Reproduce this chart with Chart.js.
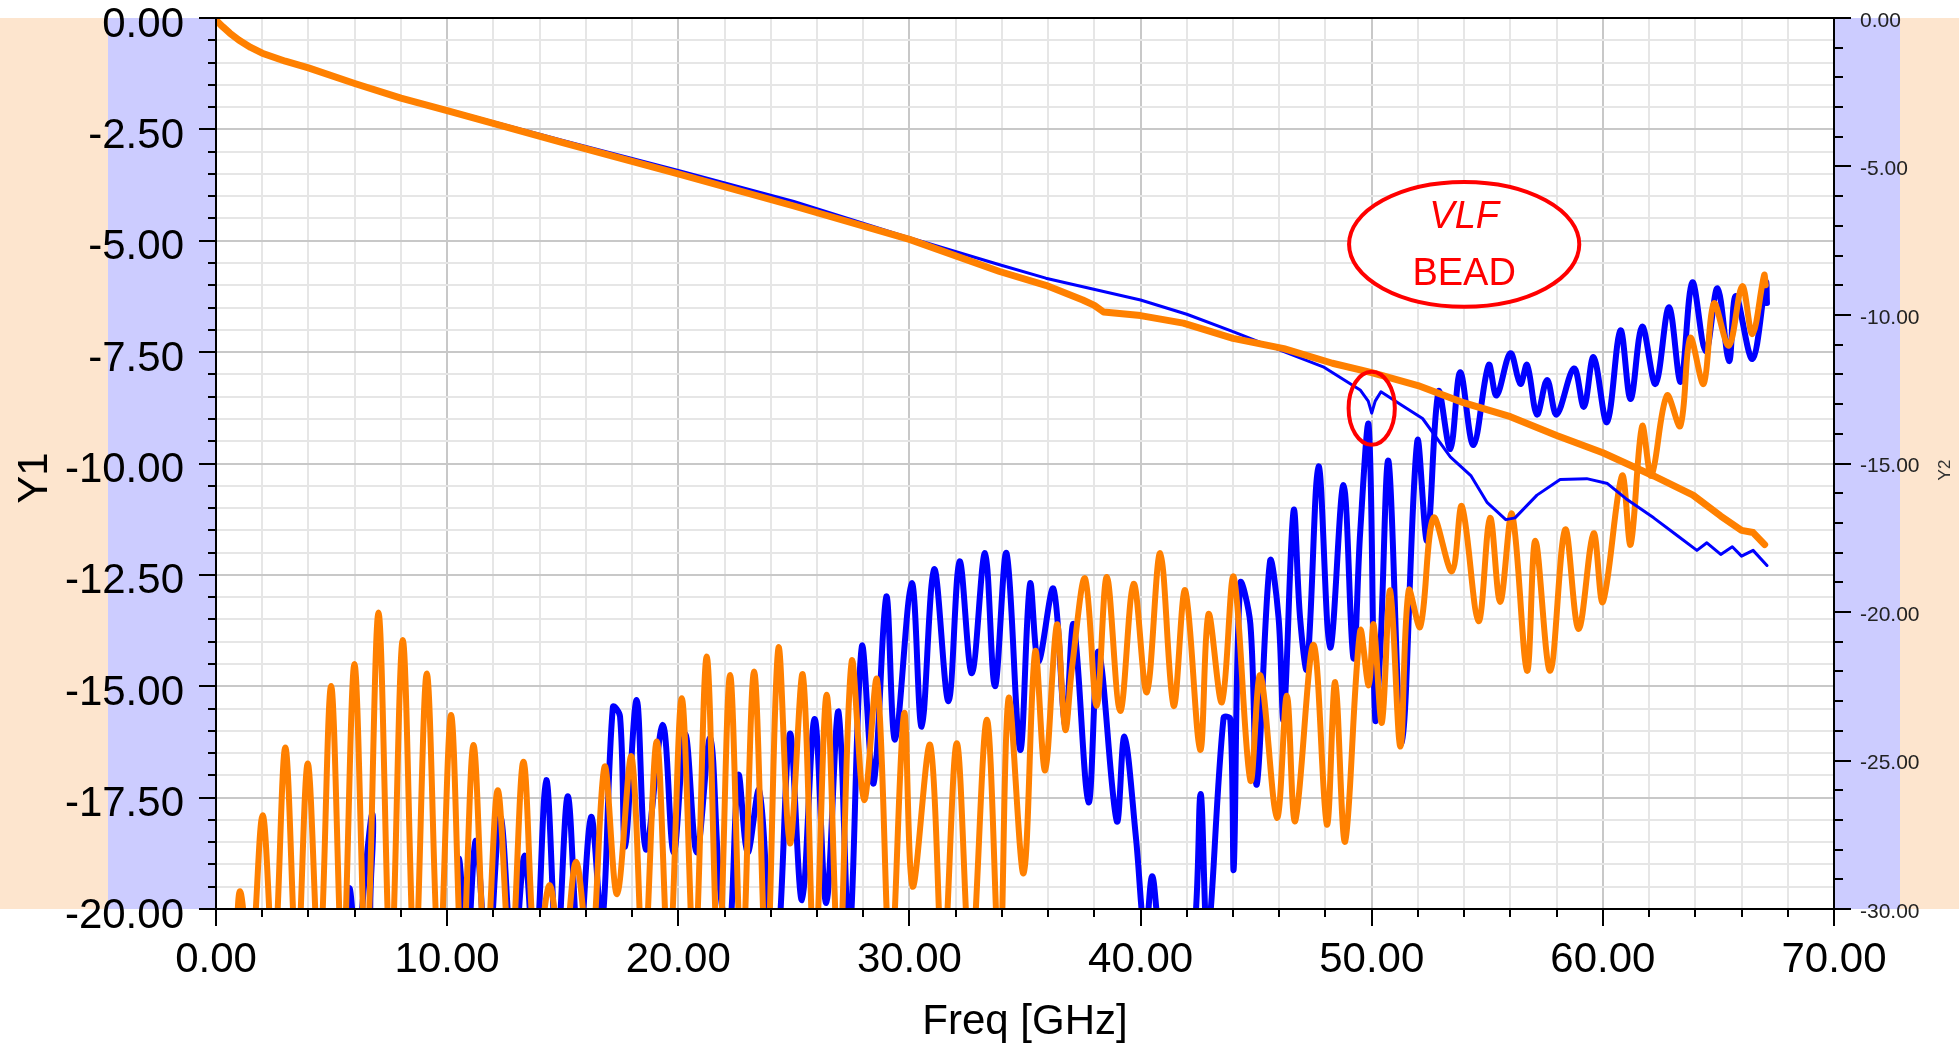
<!DOCTYPE html>
<html>
<head>
<meta charset="utf-8">
<title>Freq sweep</title>
<script src="https://cdn.jsdelivr.net/npm/chart.js@4.4.0/dist/chart.umd.min.js"></script>
<style>
  html, body { margin: 0; padding: 0; background: #fff; }
  #wrap { width: 1959px; height: 1043px; position: relative; }
</style>
</head>
<body>
<div id="wrap"><canvas id="myChart"></canvas></div>
<script>
// labelled ticks on each axis (minor ticks come from stepSize)
const freqTicks = [0, 10, 20, 30, 40, 50, 60, 70];
const y1Ticks = [0, -2.5, -5, -7.5, -10, -12.5, -15, -17.5, -20];
const y2Ticks = [0, -5, -10, -15, -20, -25, -30];

// insertion loss, left axis [GHz, dB]
const lossBlue = [[0,-0.05],[0.3,-0.2],[0.6,-0.33],[1.0,-0.49],[1.5,-0.65],[2,-0.77],[3,-0.95],[4,-1.1],[6,-1.45],[8,-1.77],
  [10,-2.05],[15,-2.75],[20,-3.42],[25,-4.12],
  [29.6,-4.87],[33.9,-5.54],[35.9,-5.84],[40,-6.33],[42,-6.65],[44,-7.04],[46.2,-7.49],[47.9,-7.83],[49.5,-8.35],[49.85,-8.6],
  [50.0,-8.87],[50.15,-8.6],[50.4,-8.39],[51.3,-8.69],[52.2,-8.99],[53.4,-9.85],[54.3,-10.28],[55.0,-10.88],[55.8,-11.26],
  [56.2,-11.22],[57.15,-10.71],[58.15,-10.36],[59.3,-10.34],[60.2,-10.45],[61.0,-10.79],[62.2,-11.22],[63.2,-11.61],
  [64.07,-11.95],[64.5,-11.78],[65.1,-12.04],[65.6,-11.87],[66.0,-12.08],[66.5,-11.95],[67.1,-12.29]];
const lossOrange = [[0,-0.05],[0.3,-0.2],[0.6,-0.34],[1.0,-0.5],[1.5,-0.66],[2,-0.79],[3,-0.97],[4,-1.12],[6,-1.47],[8,-1.8],
  [10,-2.08],[15,-2.8],[20,-3.5],[25,-4.22],
  [30,-4.97],[33.9,-5.69],[35.9,-6.0],[37.5,-6.33],[38.0,-6.45],[38.4,-6.6],[40,-6.68],[41.85,-6.85],[44,-7.19],[46.2,-7.42],
  [48.3,-7.75],[50,-7.96],[52,-8.25],[54,-8.64],[56,-8.95],[58,-9.37],[60,-9.76],[62.2,-10.28],[63.9,-10.71],[65.1,-11.18],
  [66,-11.5],[66.5,-11.55],[67,-11.82]];

// reflection, right axis [GHz, dB]
const reflBlue = [[0,-36],[5.5,-32],[5.77,-29.3],[6.1,-31.5],[6.5,-28.4],[6.78,-26.84],[7.08,-32],[10.15,-32],[10.5,-28.3],
  [10.85,-31.5],[11.25,-27.7],[11.75,-32],[12.3,-26.9],[12.85,-32],[13.35,-28.2],[13.8,-32],[14.29,-25.66],[14.75,-31.5],
  [15.22,-26.2],[15.7,-31.5],[16.23,-26.9],[16.7,-30.5],[17.17,-23.2],[17.48,-23.52],[17.7,-27.9],[18.2,-22.96],[18.6,-28.0],
  [19.33,-23.8],[19.8,-28.1],[20.3,-24.1],[20.8,-28.1],[21.38,-24.25],[21.8,-29.3],[22.2,-31],[22.6,-25.5],[23.0,-28.1],
  [23.5,-26.0],[24.0,-31],[24.3,-31.5],[24.83,-24.1],[25.35,-29.7],[25.9,-23.6],[26.4,-29.8],[26.93,-23.35],[27.4,-31],
  [27.94,-21.17],[28.45,-25.77],[29.0,-19.48],[29.38,-24.3],[30.1,-19.03],[30.53,-23.86],[31.07,-18.56],[31.69,-23.0],
  [32.17,-18.3],[32.7,-22.06],[33.27,-18.02],[33.7,-22.5],[34.2,-18.02],[34.79,-24.64],[35.22,-19.05],[35.58,-21.67],
  [36.23,-19.22],[36.74,-23.84],[37.1,-20.42],[37.75,-26.41],[38.18,-21.33],[38.97,-27.04],[39.3,-24.2],[39.8,-27.6],
  [40.2,-31],[40.5,-28.9],[40.85,-31],[41.6,-33],[42.3,-31],[42.6,-26.13],[42.9,-31],[43.59,-23.56],[43.88,-23.6],
  [44.03,-28.64],[44.31,-19.05],[44.75,-20.4],[45.03,-25.8],[45.6,-18.3],[45.97,-20.19],[46.19,-23.6],[46.62,-16.59],
  [46.9,-20.19],[47.2,-21.9],[47.7,-15.1],[48.2,-21.2],[48.78,-15.73],[49.21,-21.56],[49.5,-17.33],[49.87,-13.73],
  [50.15,-23.6],[50.37,-21.33],[50.73,-14.93],[51.3,-24.41],[51.97,-14.25],[52.4,-17.6],[52.89,-12.58],[53.4,-14.51],
  [53.83,-11.93],[54.4,-14.38],[55.06,-11.68],[55.4,-12.71],[56.0,-11.29],[56.43,-12.32],[56.72,-11.68],[57.15,-13.35],
  [57.59,-12.19],[58.0,-13.35],[58.75,-11.8],[59.18,-13.09],[59.6,-11.42],[60.18,-13.61],[60.76,-10.52],[61.2,-12.83],
  [61.7,-10.39],[62.28,-12.32],[62.86,-9.74],[63.37,-12.25],[63.87,-8.9],[64.45,-11.22],[64.96,-9.1],[65.46,-11.55],
  [65.75,-9.36],[66.47,-11.48],[67.05,-8.9],[67.1,-9.6]];
const reflOrange = [[0,-34],[0.75,-32],[1.04,-29.4],[1.5,-32],[2.02,-26.84],[2.5,-32],[3.0,-24.56],[3.5,-32],[3.97,-25.1],
  [4.47,-32],[4.98,-22.49],[5.48,-32],[5.99,-21.75],[6.5,-32],[7.03,-20.02],[7.56,-32],[8.08,-20.94],[8.6,-32],[9.12,-22.07],
  [9.65,-32],[10.17,-23.47],[10.65,-32],[11.14,-24.48],[11.67,-32],[12.19,-26.0],[12.75,-32],[13.3,-25.04],[13.85,-32],
  [14.43,-29.19],[15.0,-32],[15.58,-28.41],[16.2,-32],[16.81,-25.21],[17.35,-29.5],[17.98,-24.87],[18.5,-32],[19.07,-24.36],
  [19.6,-32],[20.15,-22.9],[20.7,-32],[21.23,-21.5],[21.74,-32],[22.24,-22.12],[22.75,-32],[23.28,-22.0],[23.82,-32],
  [24.33,-21.22],[24.83,-27.79],[25.39,-22.12],[25.9,-32],[26.42,-22.79],[26.95,-32],[27.5,-21.67],[28.04,-26.33],
  [28.6,-22.29],[29.18,-32],[29.77,-23.41],[30.14,-29.25],[30.9,-24.48],[31.45,-32],[32.05,-24.42],[32.65,-32],
  [33.35,-23.63],[33.9,-32],[34.29,-22.9],[34.94,-28.8],[35.44,-21.33],[35.87,-25.33],[36.38,-20.42],[36.74,-23.96],
  [37.03,-21.9],[37.6,-18.87],[38.1,-23.16],[38.54,-18.82],[39.12,-23.33],[39.7,-19.05],[40.27,-22.7],[40.85,-18.02],
  [41.43,-23.16],[41.93,-19.27],[42.58,-24.64],[42.94,-20.07],[43.52,-23.04],[44.03,-18.82],[44.75,-25.67],[45.18,-22.13],
  [45.9,-26.93],[46.33,-22.82],[46.69,-27.04],[47.48,-21.1],[48.06,-27.16],[48.42,-22.36],[48.85,-27.73],[49.5,-20.64],
  [49.87,-22.47],[50.08,-20.42],[50.44,-23.73],[50.8,-19.27],[51.24,-24.53],[51.6,-19.27],[52.1,-20.5],[52.67,-16.83],
  [53.47,-18.63],[53.9,-16.44],[54.62,-20.31],[55.12,-16.83],[55.56,-19.66],[56.07,-16.7],[56.72,-21.98],[57.08,-17.6],
  [57.72,-21.98],[58.37,-17.22],[58.95,-20.57],[59.6,-17.35],[60.0,-19.66],[60.83,-15.41],[61.2,-17.73],[61.7,-13.74],
  [62.1,-15.41],[62.77,-12.71],[63.35,-13.74],[63.78,-10.77],[64.36,-12.32],[64.8,-9.61],[65.45,-11.03],[66.03,-9.03],
  [66.47,-10.64],[66.98,-8.65],[67.05,-9.0]];

// callouts, in axis units (GHz, left-axis dB)
const beadNote = { x: 54.0, y: -5.08, rx: 4.98, ry: 1.4 };
const dipNote = { x: 50.0, y: -8.76, rx: 1.0, ry: 0.82 };

const FONT = "'Liberation Sans', Arial, sans-serif";
const BLUE = '#0000ff';
const ORANGE = '#ff8000';
const PEACH = '#fde5ce';
const LAVENDER = '#ccccff';

function toXY(pts) {
  return pts.map(p => ({ x: p[0], y: p[1] }));
}

function isMajor(v, list) {
  return list.some(m => Math.abs(m - v) < 1e-6);
}

function gridColor(list) {
  return c => isMajor(c.tick.value, list) ? '#c8c8c8' : '#e6e6e6';
}

const decor = {
  id: 'decor',
  beforeDraw(chart) {
    const c = chart.ctx, a = chart.chartArea;
    const h = a.bottom - a.top;
    c.save();
    c.fillStyle = PEACH;
    c.fillRect(0, a.top, 108, h);
    c.fillRect(a.right + 66, a.top, chart.width - a.right - 66, h);
    c.fillStyle = LAVENDER;
    c.fillRect(108, a.top, a.left - 108, h);
    c.fillRect(a.right, a.top, 66, h);
    c.restore();
  },
  afterDatasetsDraw(chart) {
    const c = chart.ctx, sx = chart.scales.x, sy = chart.scales.y;
    c.save();
    // big callout with the label
    let cx = sx.getPixelForValue(beadNote.x), cy = sy.getPixelForValue(beadNote.y);
    let rx = sx.getPixelForValue(beadNote.x + beadNote.rx) - cx;
    let ry = sy.getPixelForValue(beadNote.y - beadNote.ry) - cy;
    c.beginPath();
    c.ellipse(cx, cy, rx, ry, 0, 0, Math.PI * 2);
    c.fillStyle = '#fff';
    c.fill();
    c.lineWidth = 4;
    c.strokeStyle = '#ff0000';
    c.stroke();
    c.fillStyle = '#ff0000';
    c.textAlign = 'center';
    c.textBaseline = 'middle';
    c.font = 'italic 38px ' + FONT;
    c.fillText('VLF', cx, cy - 27);
    c.font = '38px ' + FONT;
    c.fillText('BEAD', cx, cy + 30);
    // small ring round the dip
    cx = sx.getPixelForValue(dipNote.x);
    cy = sy.getPixelForValue(dipNote.y);
    rx = sx.getPixelForValue(dipNote.x + dipNote.rx) - cx;
    ry = sy.getPixelForValue(dipNote.y - dipNote.ry) - cy;
    c.beginPath();
    c.ellipse(cx, cy, rx, ry, 0, 0, Math.PI * 2);
    c.stroke();
    c.restore();
  },
  afterDraw(chart) {
    const c = chart.ctx, a = chart.chartArea;
    const sx = chart.scales.x, sy = chart.scales.y, sy2 = chart.scales.y2;
    c.save();
    c.strokeStyle = '#000';
    c.lineWidth = 2;
    c.strokeRect(a.left, a.top, a.right - a.left, a.bottom - a.top);
    c.beginPath();
    sx.ticks.forEach(t => {
      const p = Math.round(sx.getPixelForValue(t.value));
      c.moveTo(p, a.bottom);
      c.lineTo(p, a.bottom + (isMajor(t.value, freqTicks) ? 17 : 8));
    });
    sy.ticks.forEach(t => {
      const p = Math.round(sy.getPixelForValue(t.value));
      c.moveTo(a.left, p);
      c.lineTo(a.left - (isMajor(t.value, y1Ticks) ? 17 : 8), p);
    });
    sy2.ticks.forEach(t => {
      const p = Math.round(sy2.getPixelForValue(t.value));
      c.moveTo(a.right, p);
      c.lineTo(a.right + (isMajor(t.value, y2Ticks) ? 17 : 9), p);
    });
    c.stroke();

    // y tick labels, drawn here so they add no padding above the plot
    c.textBaseline = 'middle';
    c.fillStyle = '#000';
    c.font = '42px ' + FONT;
    c.textAlign = 'right';
    y1Ticks.forEach(v => c.fillText(v.toFixed(2), a.left - 32, sy.getPixelForValue(v) + 7));
    c.fillStyle = '#222';
    c.font = '21px ' + FONT;
    c.textAlign = 'left';
    y2Ticks.forEach(v => c.fillText(v.toFixed(2), a.right + 26, sy2.getPixelForValue(v) + 3));

    // axis titles
    c.fillStyle = '#000';
    c.textAlign = 'center';
    c.font = '42px ' + FONT;
    c.fillText('Freq [GHz]', (a.left + a.right) / 2, 1022);
    c.save();
    c.translate(35, 478);
    c.rotate(-Math.PI / 2);
    c.fillText('Y1', 0, 0);
    c.restore();
    c.fillStyle = '#333';
    c.font = '17px ' + FONT;
    c.translate(1945, 470);
    c.rotate(-Math.PI / 2);
    c.fillText('Y2', 0, 0);
    c.restore();
  }
};

const ctx = document.getElementById('myChart');

const myChart = new Chart(ctx, {
  type: 'line',
  data: {
    datasets: [
      { label: 'S21 b', data: toXY(lossOrange), yAxisID: 'y', borderColor: ORANGE, borderWidth: 7, order: 0 },
      { label: 'S21 a', data: toXY(lossBlue), yAxisID: 'y', borderColor: BLUE, borderWidth: 3, order: 1 },
      { label: 'S11 b', data: toXY(reflOrange), yAxisID: 'y2', borderColor: ORANGE, borderWidth: 6, tension: 0.35, order: 2 },
      { label: 'S11 a', data: toXY(reflBlue), yAxisID: 'y2', borderColor: BLUE, borderWidth: 6, tension: 0.35, order: 3 }
    ]
  },
  options: {
    responsive: true,
    maintainAspectRatio: false,
    devicePixelRatio: 1,
    animation: false,
    events: [],
    layout: { padding: { top: 18, left: 0, right: 0, bottom: 0 } },
    elements: {
      point: { radius: 0 },
      line: { tension: 0, fill: false, borderJoinStyle: 'round', borderCapStyle: 'round' }
    },
    plugins: { legend: { display: false }, tooltip: { enabled: false } },
    scales: {
      x: {
        type: 'linear', position: 'bottom', min: 0, max: 70,
        afterFit: s => { s.height = 134; },
        ticks: {
          stepSize: 2, autoSkip: false, maxRotation: 0, minRotation: 0, padding: 26,
          color: '#000', font: { size: 42, family: FONT },
          callback: v => isMajor(v, freqTicks) ? v.toFixed(2) : ''
        },
        grid: { color: gridColor(freqTicks), lineWidth: 2, drawTicks: false },
        border: { display: false }
      },
      y: {
        type: 'linear', position: 'left', min: -20, max: 0,
        afterFit: s => { s.width = 216; },
        ticks: { stepSize: 0.5, autoSkip: false, display: false },
        grid: { color: gridColor(y1Ticks), lineWidth: 2, drawTicks: false },
        border: { display: false }
      },
      y2: {
        type: 'linear', position: 'right', min: -30, max: 0,
        afterFit: s => { s.width = 125; },
        ticks: { stepSize: 1, autoSkip: false, display: false },
        grid: { drawOnChartArea: false, drawTicks: false },
        border: { display: false }
      }
    }
  },
  plugins: [decor]
});
</script>
</body>
</html>
